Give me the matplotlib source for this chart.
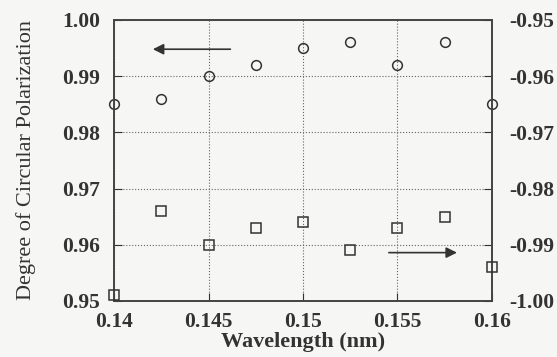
import matplotlib
matplotlib.use("Agg")
from matplotlib import pyplot as plt

plt.rcParams['font.family'] = ['Liberation Serif', 'DejaVu Serif']

wavelength = [0.14, 0.1425, 0.145, 0.1475, 0.15, 0.1525, 0.155, 0.1575, 0.16]
circ_left = [0.985, 0.986, 0.990, 0.992, 0.995, 0.996, 0.992, 0.996, 0.985]
circ_right = [-0.999, -0.984, -0.990, -0.987, -0.986, -0.991, -0.987, -0.985, -0.994]

xticks = [0.14, 0.145, 0.15, 0.155, 0.16]
xlabels = ['0.14', '0.145', '0.15', '0.155', '0.16']
lticks = [0.95, 0.96, 0.97, 0.98, 0.99, 1.00]
llabels = ['0.95', '0.96', '0.97', '0.98', '0.99', '1.00']
rticks = [-1.00, -0.99, -0.98, -0.97, -0.96, -0.95]
rlabels = ['-1.00', '-0.99', '-0.98', '-0.97', '-0.96', '-0.95']

bg = '#f6f6f4'
ink = '#333333'
fig = plt.figure(figsize=(5.57, 3.57), dpi=100, facecolor=bg)
ax = fig.add_axes([0.205, 0.157, 0.678, 0.787])
ax.set_facecolor(bg)
ax2 = ax.twinx()

ax.plot(wavelength, circ_left, 'o', mfc='none', mec=ink, ms=7, mew=1.1, clip_on=False, zorder=5)
ax2.plot(wavelength, circ_right, 's', mfc='none', mec=ink, ms=7, mew=1.1, clip_on=False, zorder=5)

ax.set_xlim(0.14, 0.16)
ax.set_ylim(0.95, 1.00)
ax2.set_ylim(-1.00, -0.95)

ax.set_xticks(xticks)
ax.set_xticklabels(xlabels, fontweight='bold')
ax.set_yticks(lticks)
ax.set_yticklabels(llabels, fontweight='bold')
ax2.set_yticks(rticks)
ax2.set_yticklabels(rlabels, fontweight='bold')

ax.grid(True, linestyle=':', color='#666666', linewidth=0.8)
ax.tick_params(axis='x', direction='in', length=6, labelsize=15.5, colors=ink, pad=8)
ax.tick_params(axis='y', direction='in', length=6, labelsize=15.5, colors=ink, pad=10)
ax2.tick_params(direction='in', length=6, labelsize=15.5, colors=ink, pad=12.5)
for a in (ax, ax2):
    for s in a.spines.values():
        s.set_color('#444444')
        s.set_linewidth(1.2)

ax.set_xlabel('Wavelength (nm)', fontsize=16, fontweight='bold', color=ink, labelpad=0)
ax.set_ylabel('Degree of Circular Polarization', fontsize=16, color=ink)
ax.yaxis.set_label_coords(-0.206, 0.5)

# arrows showing which axis each series belongs to
ax.annotate('', xy=(0.1419, 0.9948), xytext=(0.1463, 0.9948),
            arrowprops=dict(arrowstyle='-|>', color=ink, lw=1.2, mutation_scale=16))
ax.annotate('', xy=(0.1583, 0.9586), xytext=(0.1544, 0.9586),
            arrowprops=dict(arrowstyle='-|>', color=ink, lw=1.2, mutation_scale=16))

fig.savefig('out.png', dpi=100, facecolor=bg)
